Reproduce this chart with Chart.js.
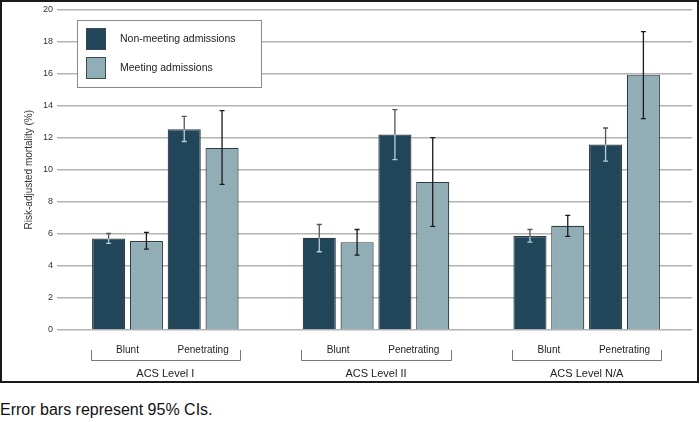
<!DOCTYPE html>
<html>
<head>
<meta charset="utf-8">
<script src="https://cdn.jsdelivr.net/npm/chart.js@4"></script>
<style>
  html, body { margin: 0; padding: 0; background: #fff; }
  #wrap { position: absolute; left: 0; top: 0; width: 700px; height: 384px; }
  #note { position: absolute; left: 0; top: 401px; font-family: "Liberation Sans", Arial, sans-serif; font-size: 16px; color: #111; white-space: nowrap; }
</style>
</head>
<body>
<div id="wrap"><canvas id="c" width="700" height="384"></canvas></div>
<div id="note">Error bars represent 95% CIs.</div>
<script>
// ---- data ----
const levels = ["ACS Level I", "ACS Level II", "ACS Level N/A"];
const injuryTypes = ["Blunt", "Penetrating"];
const seriesNames = ["Non-meeting admissions", "Meeting admissions"];

const bluntNonMeeting = [5.71, 5.75, 5.86];
const bluntNonMeetingLo = [5.40, 4.88, 5.48];
const bluntNonMeetingHi = [6.02, 6.58, 6.27];

const bluntMeeting = [5.55, 5.48, 6.50];
const bluntMeetingLo = [5.05, 4.67, 5.84];
const bluntMeetingHi = [6.09, 6.27, 7.15];

const penNonMeeting = [12.52, 12.19, 11.57];
const penNonMeetingLo = [11.76, 10.63, 10.53];
const penNonMeetingHi = [13.33, 13.75, 12.60];

const penMeeting = [11.36, 9.24, 15.93];
const penMeetingLo = [9.08, 6.46, 13.19];
const penMeetingHi = [13.69, 12.00, 18.61];

const yTicks = [0, 2, 4, 6, 8, 10, 12, 14, 16, 18, 20];

const DARK = "#214659";
const LIGHT = "#91adb5";
const FONT = '"Liberation Sans", Arial, sans-serif';

function ds(label, data, lo, hi, color, series) {
  return {
    label: label, data: data, lo: lo, hi: hi, series: series,
    backgroundColor: color, borderColor: "#2e3c42", borderWidth: 1.2,
    barPercentage: 0.875, categoryPercentage: 0.718
  };
}

const datasets = [
  ds("Blunt – " + seriesNames[0], bluntNonMeeting, bluntNonMeetingLo, bluntNonMeetingHi, DARK, 0),
  ds("Blunt – " + seriesNames[1], bluntMeeting, bluntMeetingLo, bluntMeetingHi, LIGHT, 1),
  ds("Penetrating – " + seriesNames[0], penNonMeeting, penNonMeetingLo, penNonMeetingHi, DARK, 0),
  ds("Penetrating – " + seriesNames[1], penMeeting, penMeetingLo, penMeetingHi, LIGHT, 1)
];

const errorBars = {
  id: "errorBars",
  afterDatasetsDraw(chart) {
    const ctx = chart.ctx, y = chart.scales.y;
    chart.data.datasets.forEach((d, di) => {
      const meta = chart.getDatasetMeta(di);
      meta.data.forEach((bar, i) => {
        const x = bar.x;
        const top = y.getPixelForValue(d.hi[i]);
        const bot = y.getPixelForValue(d.lo[i]);
        const barTop = y.getPixelForValue(d.data[i]);
        ctx.save();
        ctx.lineWidth = 1.3;
        const cap = 2.5;
        if (d.series === 0) {
          ctx.strokeStyle = "#555";
          ctx.beginPath();
          ctx.moveTo(x, top); ctx.lineTo(x, Math.min(barTop, bot));
          ctx.moveTo(x - cap, top); ctx.lineTo(x + cap, top);
          ctx.stroke();
          ctx.strokeStyle = "#b8d0d8";
          ctx.beginPath();
          ctx.moveTo(x, barTop + 0.5); ctx.lineTo(x, bot);
          ctx.moveTo(x - cap, bot); ctx.lineTo(x + cap, bot);
          ctx.stroke();
        } else {
          ctx.strokeStyle = "#1a1a1a";
          ctx.beginPath();
          ctx.moveTo(x, top); ctx.lineTo(x, bot);
          ctx.moveTo(x - cap, top); ctx.lineTo(x + cap, top);
          ctx.moveTo(x - cap, bot); ctx.lineTo(x + cap, bot);
          ctx.stroke();
        }
        ctx.restore();
      });
    });
  }
};

const decor = {
  id: "decor",
  afterDraw(chart) {
    const ctx = chart.ctx;
    const m0 = chart.getDatasetMeta(0), m1 = chart.getDatasetMeta(1),
          m2 = chart.getDatasetMeta(2), m3 = chart.getDatasetMeta(3);
    const bottom = chart.chartArea.bottom;
    ctx.save();
    levels.forEach((lv, i) => {
      const b0 = m0.data[i], b1 = m1.data[i], b2 = m2.data[i], b3 = m3.data[i];
      const left = b0.x - b0.width / 2 - 1.5;
      const right = b3.x + b3.width / 2 + 1.5;
      const yTop = bottom + 20, yBot = bottom + 30;
      ctx.strokeStyle = "#777";
      ctx.lineWidth = 1;
      ctx.beginPath();
      ctx.moveTo(Math.round(left) + 0.5, yTop);
      ctx.lineTo(Math.round(left) + 0.5, yBot + 0.5);
      ctx.lineTo(Math.round(right) + 0.5, yBot + 0.5);
      ctx.lineTo(Math.round(right) + 0.5, yTop);
      ctx.stroke();
      ctx.fillStyle = "#222";
      ctx.textAlign = "center";
      ctx.textBaseline = "middle";
      ctx.font = "10px " + FONT;
      ctx.fillText(injuryTypes[0], (b0.x + b1.x) / 2, bottom + 20);
      ctx.fillText(injuryTypes[1], (b2.x + b3.x) / 2, bottom + 20);
      ctx.font = "11px " + FONT;
      ctx.fillText(lv, (left + right) / 2, bottom + 44);
    });
    const lx = 77, ly = 20, lw = 184, lh = 67;
    ctx.fillStyle = "#fff";
    ctx.fillRect(lx, ly, lw, lh);
    ctx.strokeStyle = "#8a8a8a";
    ctx.lineWidth = 1;
    ctx.strokeRect(lx + 0.5, ly + 0.5, lw, lh);
    const items = [[DARK, seriesNames[0], 28], [LIGHT, seriesNames[1], 57]];
    items.forEach(([c, t, yy]) => {
      ctx.fillStyle = c;
      ctx.fillRect(86, yy, 20, 22);
      ctx.strokeStyle = "#3a4a50";
      ctx.strokeRect(86.5, yy + 0.5, 19, 21);
      ctx.fillStyle = "#222";
      ctx.textAlign = "left";
      ctx.textBaseline = "middle";
      ctx.font = "10.5px " + FONT;
      ctx.fillText(t, 120, yy + 11);
    });
    ctx.strokeStyle = "#1a1a1a";
    ctx.lineWidth = 2;
    ctx.strokeRect(1, 1, 697, 381);
    ctx.restore();
  }
};

new Chart(document.getElementById("c"), {
  type: "bar",
  data: { labels: levels, datasets: datasets },
  options: {
    responsive: false,
    animation: false,
    events: [],
    layout: { padding: { left: 0, right: 8, top: 4, bottom: 46 } },
    plugins: { legend: { display: false }, tooltip: { enabled: false } },
    scales: {
      x: {
        display: true,
        grid: { display: false },
        border: { display: false },
        ticks: { display: false }
      },
      y: {
        min: 0, max: 20,
        afterFit(s) { s.width = 60; },
        afterBuildTicks(s) { s.ticks = yTicks.map(v => ({ value: v })); },
        border: { display: false },
        grid: { color: "#b4b4b4", lineWidth: 1.5, tickLength: 3, drawTicks: true },
        ticks: { font: { family: FONT, size: 9 }, color: "#333", padding: 4 },
        title: {
          display: true,
          text: "Risk-adjusted mortality (%)",
          font: { family: FONT, size: 10 },
          color: "#333",
          padding: { top: 23, bottom: 0 }
        }
      }
    }
  },
  plugins: [errorBars, decor]
});
</script>
</body>
</html>
